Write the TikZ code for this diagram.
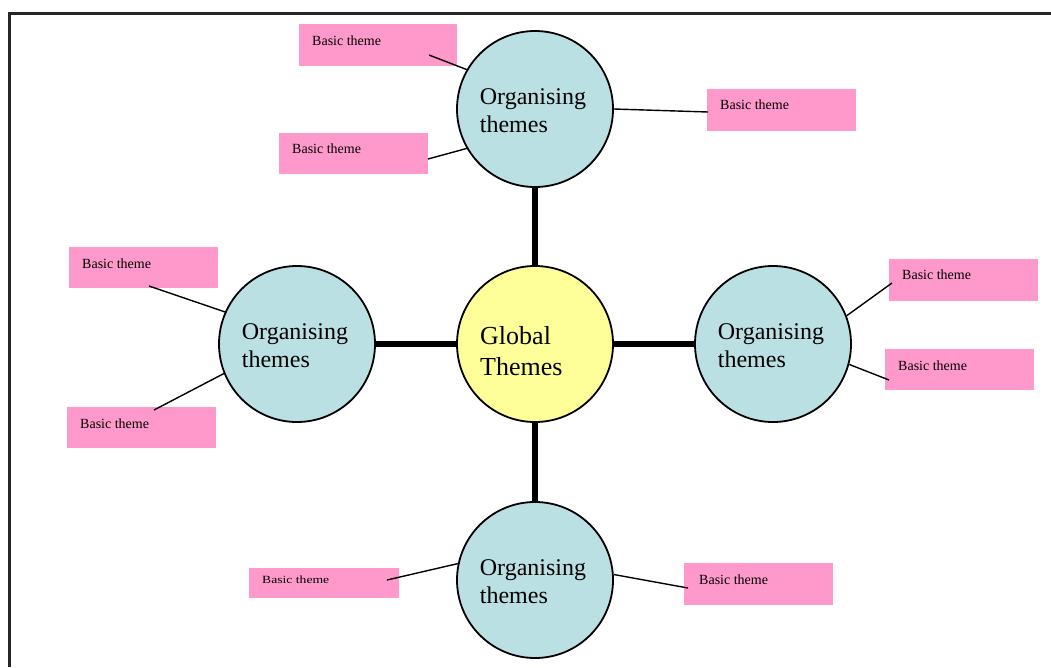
\documentclass[tikz,border=0pt]{standalone}
\usepackage{fontspec}
\setmainfont{Liberation Serif}
\definecolor{pinkbox}{RGB}{255,153,204}
\definecolor{bluecirc}{RGB}{187,224,227}
\definecolor{yellowcirc}{RGB}{255,255,153}
\begin{document}
\begin{tikzpicture}[x=1pt,y=-1pt,
  circ/.style={circle,draw=black,line width=1.8pt,minimum size=156pt,inner sep=0pt,fill=bluecirc},
  gcirc/.style={circ,fill=yellowcirc},
  ctext/.style={inner sep=0pt,align=left,font=\fontsize{24}{28}\selectfont},
  bbox/.style={rectangle,fill=pinkbox,inner sep=0pt,anchor=north west,minimum width=149pt,minimum height=41pt},
  btext/.style={anchor=base west,inner sep=0pt,font=\fontsize{14}{16}\selectfont},
  spoke/.style={line width=5.5pt},
  twig/.style={line width=1.4pt},
]
\useasboundingbox (0,0) rectangle (1051,667);
% frame
\draw[line width=2.2pt,black!85] (9.5,667) -- (9.5,13.5) -- (1051,13.5);

% pink boxes
\node[bbox,minimum width=158pt,minimum height=42pt] (b1) at (299,24) {};
\node[bbox] (b2) at (279,133) {};
\node[bbox,minimum height=42pt] (b3) at (707,89) {};
\node[bbox] (b4) at (69,247) {};
\node[bbox] (b5) at (67,407) {};
\node[bbox,minimum height=42pt] (b6) at (889,259) {};
\node[bbox] (b7) at (885,349) {};
\node[bbox,minimum width=150pt,minimum height=30pt] (b8) at (249,568) {};
\node[bbox,minimum height=42pt] (b9) at (684,563) {};

\node[btext] (t1) at ([shift={(13,21)}]b1.north west) {Basic theme};
\node[btext] (t2) at ([shift={(13,20)}]b2.north west) {Basic theme};
\node[btext] (t3) at ([shift={(13,20)}]b3.north west) {Basic theme};
\node[btext] (t4) at ([shift={(13,21)}]b4.north west) {Basic theme};
\node[btext] (t5) at ([shift={(13,21)}]b5.north west) {Basic theme};
\node[btext] (t6) at ([shift={(13,20)}]b6.north west) {Basic theme};
\node[btext] (t7) at ([shift={(13,21)}]b7.north west) {Basic theme};
\node[btext,font=\fontsize{11}{13}\selectfont] (t8) at ([shift={(13,15)}]b8.north west) {\scalebox{1.24}[1]{Basic theme}};
\node[btext] (t9) at ([shift={(15,21)}]b9.north west) {Basic theme};

% circles
\node[gcirc] (g) at (535,344) {};
\node[circ] (top) at (535,109) {};
\node[circ] (lft) at (297,344) {};
\node[circ] (rgt) at (773,344) {};
\node[circ] (bot) at (535,580) {};
\node[ctext] (tt) at ([shift={(-2,2)}]top.center) {Organising\\themes};
\node[ctext] (lt) at ([shift={(-2,2)}]lft.center) {Organising\\themes};
\node[ctext] (rt) at ([shift={(-2,2)}]rgt.center) {Organising\\themes};
\node[ctext] (bt) at ([shift={(-2,2)}]bot.center) {Organising\\themes};
\node[anchor=west,inner sep=0pt,align=left,font=\fontsize{26}{31.7}\selectfont] (gt) at ([shift={(-55,7)}]g.center) {Global\\Themes};

% spokes
\draw[spoke] (g) -- (top);
\draw[spoke] (g) -- (lft);
\draw[spoke] (g) -- (rgt);
\draw[spoke] (g) -- (bot);

% free ends of twigs
\coordinate (p1) at (429,55);
\coordinate (p2) at (428,159);
\coordinate (p3) at (708,112);
\coordinate (p4) at (149,286);
\coordinate (p5) at (154,410);
\coordinate (p6) at (892,283);
\coordinate (p7) at (889,380);
\coordinate (p8) at (387,580);
\coordinate (p9) at (688,588);

\draw[twig] (top.150) -- (p1);
\draw[twig] (top.210) -- (p2);
\draw[twig] (top.east) -- (p3);
\draw[twig] (lft.156) -- (p4);
\draw[twig] (lft.202) -- (p5);
\draw[twig] (rgt.21) -- (p6);
\draw[twig] (rgt.-15) -- (p7);
\draw[twig] (bot.168) -- (p8);
\draw[twig] (bot.4) -- (p9);
\end{tikzpicture}
\end{document}
